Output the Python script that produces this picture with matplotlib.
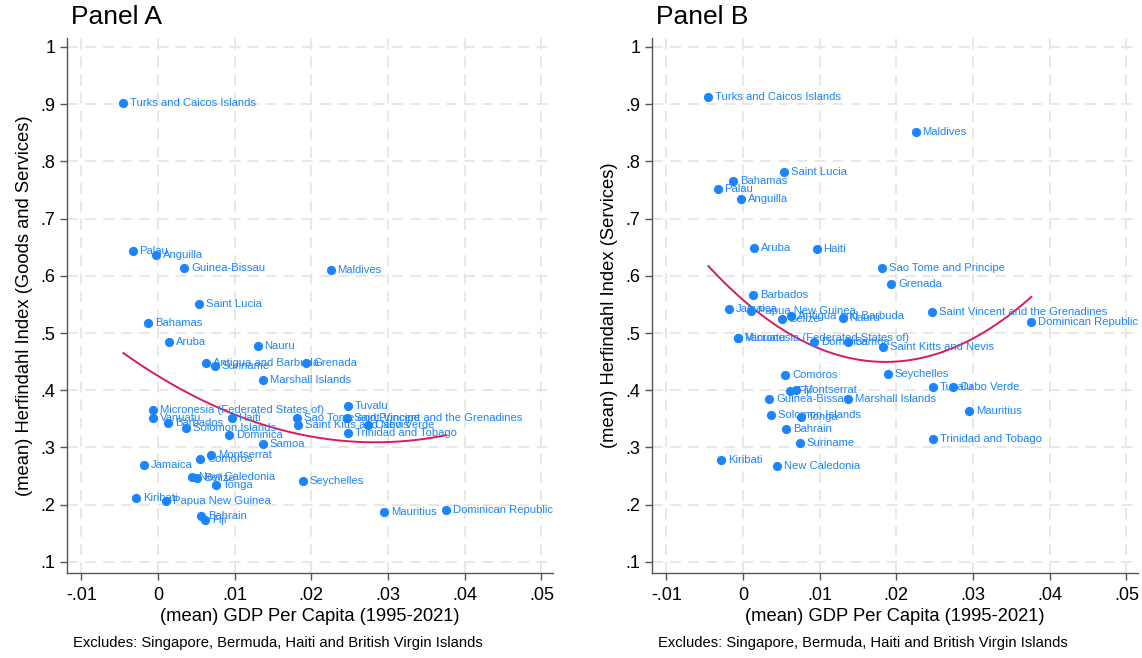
import matplotlib
matplotlib.use("Agg")
import matplotlib.pyplot as plt
import numpy as np

plt.rcParams['font.family'] = ['Liberation Sans', 'DejaVu Sans']

# country names (same order in every array)
countries = ["Turks and Caicos Islands", "Palau", "Anguilla", "Guinea-Bissau", "Maldives",
             "Saint Lucia", "Bahamas", "Aruba", "Nauru", "Antigua and Barbuda",
             "Suriname", "Grenada", "Marshall Islands", "Micronesia (Federated States of)", "Vanuatu",
             "Barbados", "Haiti", "Sao Tome and Principe", "Saint Kitts and Nevis", "Solomon Islands",
             "Tuvalu", "Saint Vincent and the Grenadines", "Cabo Verde", "Trinidad and Tobago", "Dominica",
             "Samoa", "Montserrat", "Comoros", "Jamaica", "New Caledonia",
             "Belize", "Tonga", "Seychelles", "Kiribati", "Papua New Guinea",
             "Bahrain", "Fiji", "Mauritius", "Dominican Republic"]

gdp = [-0.0045, -0.0033, -0.0002, 0.0034, 0.0225,
       0.0054, -0.0013, 0.0014, 0.0130, 0.0063,
       0.0074, 0.0193, 0.0137, -0.0006, -0.0006,
       0.0013, 0.0096, 0.0181, 0.0183, 0.0037,
       0.0248, 0.0247, 0.0274, 0.0248, 0.0093,
       0.0137, 0.0069, 0.0055, -0.0018, 0.0044,
       0.0051, 0.0076, 0.0189, -0.0028, 0.0010,
       0.0056, 0.0061, 0.0295, 0.0376]

hhi_goods_services = [0.902, 0.644, 0.637, 0.613, 0.611,
                      0.550, 0.518, 0.484, 0.477, 0.448,
                      0.442, 0.447, 0.417, 0.366, 0.352,
                      0.343, 0.351, 0.352, 0.339, 0.334,
                      0.373, 0.352, 0.340, 0.325, 0.321,
                      0.306, 0.287, 0.279, 0.270, 0.248,
                      0.246, 0.235, 0.242, 0.212, 0.207,
                      0.181, 0.173, 0.187, 0.191]

hhi_services = [0.913, 0.751, 0.735, 0.384, 0.852,
                0.782, 0.766, 0.648, 0.526, 0.530,
                0.307, 0.586, 0.385, 0.492, 0.492,
                0.566, 0.646, 0.614, 0.476, 0.356,
                0.405, 0.536, 0.405, 0.315, 0.485,
                0.485, 0.400, 0.426, 0.542, 0.267,
                0.524, 0.353, 0.428, 0.278, 0.538,
                0.332, 0.398, 0.363, 0.520]

xticks = [-0.01, 0, 0.01, 0.02, 0.03, 0.04, 0.05]
xtick_labels = ["-.01", "0", ".01", ".02", ".03", ".04", ".05"]
yticks = [0.1, 0.2, 0.3, 0.4, 0.5, 0.6, 0.7, 0.8, 0.9, 1.0]
ytick_labels = [".1", ".2", ".3", ".4", ".5", ".6", ".7", ".8", ".9", "1"]

dot_col = "#1a85ff"
fit_col = "#d81b60"
note = "Excludes: Singapore, Bermuda, Haiti and British Virgin Islands"

fig = plt.figure(figsize=(11.42, 6.58), dpi=100)
W, H = 1142, 658


def panel(left_px, right_px, yvals, ylabel, title):
    ax = fig.add_axes([left_px / W, 1 - 573 / H, (right_px - left_px) / W, (573 - 38) / H])
    x = np.array(gdp)
    y = np.array(yvals)
    # quadratic fit line
    c = np.polyfit(x, y, 2)
    xs = np.linspace(x.min(), x.max(), 200)
    ax.plot(xs, np.polyval(c, xs), color=fit_col, lw=1.4, zorder=2)
    ax.scatter(x, y, s=44, color=dot_col, zorder=3, linewidths=0)
    for name, xi, yi in zip(countries, x, y):
        ax.annotate(name, (xi, yi), xytext=(5, 0), textcoords="offset points",
                    va="center", ha="left", fontsize=8.1, color=dot_col, zorder=4)
    ax.set_xlim(-0.01185, 0.0515)
    ax.set_ylim(0.0805, 1.0157)
    ax.set_xticks(xticks)
    ax.set_xticklabels(xtick_labels)
    ax.set_yticks(yticks)
    ax.set_yticklabels(ytick_labels)
    ax.grid(True, color="#e6e6e6", lw=1.3, ls=(0, (6, 4)), zorder=0)
    ax.set_axisbelow(True)
    for s in ["top", "right"]:
        ax.spines[s].set_visible(False)
    for s in ["left", "bottom"]:
        ax.spines[s].set_color("#555555")
        ax.spines[s].set_linewidth(1.0)
    ax.tick_params(colors="#555555", labelcolor="black", labelsize=13, length=5, width=1.0)
    ax.tick_params(axis="x", pad=5)
    ax.set_xlabel("(mean) GDP Per Capita (1995-2021)", fontsize=13.2, labelpad=3)
    ax.set_ylabel(ylabel, fontsize=13.2, labelpad=5)
    fig.text((left_px + 4) / W, 1 - 17 / H, title, fontsize=19, va="center", ha="left")
    fig.text((left_px + 6) / W, 1 - 643 / H, note, fontsize=10.6, va="center", ha="left")
    return ax


panel(67, 553, hhi_goods_services, "(mean) Herfindahl Index (Goods and Services)", "Panel A")
panel(652, 1138, hhi_services, "(mean) Herfindahl Index (Services)", "Panel B")

fig.savefig("out.png", dpi=100)
